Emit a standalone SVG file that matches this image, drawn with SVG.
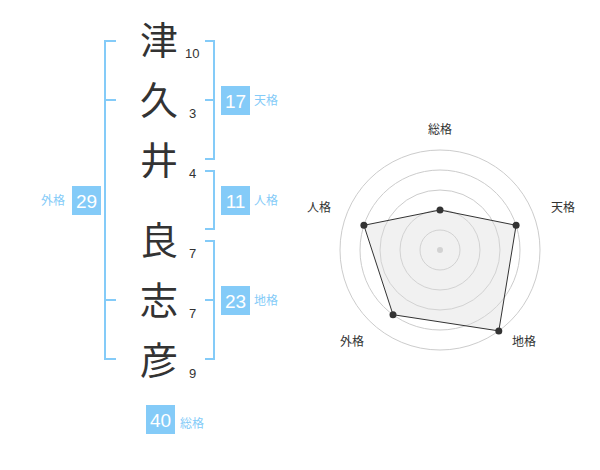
<svg xmlns="http://www.w3.org/2000/svg" width="600" height="470" viewBox="0 0 600 470">
<style>
.k{font-family:"Noto Sans CJK JP","Noto Sans CJK SC",sans-serif;font-size:38px;fill:#333;text-anchor:middle}
.n{font-family:"Liberation Sans",Arial,sans-serif;font-size:13px;fill:#333}
.br{fill:none;stroke:#84CBF8;stroke-width:2}
.bx{fill:#84CBF8}
.bt{font-family:"Liberation Sans",Arial,sans-serif;font-size:19px;fill:#fff;text-anchor:middle}
.lb{font-family:"Noto Sans CJK JP","Noto Sans CJK SC",sans-serif;font-size:12px;fill:#84CBF8}
.rl{font-family:"Noto Sans CJK JP","Noto Sans CJK SC",sans-serif;font-size:12px;fill:#333;text-anchor:middle}
.ring{fill:none;stroke:#ccc;stroke-width:1}
.pt{fill:#333}
</style>
<rect width="600" height="470" fill="#fff"/>
<g id="chars">
<text class="k" x="159" y="54">津</text>
<text class="k" x="159" y="114">久</text>
<text class="k" x="159" y="174">井</text>
<text class="k" x="159" y="254">良</text>
<text class="k" x="159" y="314">志</text>
<text class="k" x="159" y="374">彦</text>
<text class="n" x="185" y="58">10</text>
<text class="n" x="189" y="118">3</text>
<text class="n" x="189" y="178">4</text>
<text class="n" x="189" y="258">7</text>
<text class="n" x="189" y="318">7</text>
<text class="n" x="189" y="378">9</text>
</g>
<g id="connectors">
<path class="br" d="M116,41 H105 V359 H116 M105,100 H116 M105,300 H116"/>
<path class="br" d="M205,41 H214 V159 H205 M205,100 H214"/>
<path class="br" d="M205,171 H214 V229 H205"/>
<path class="br" d="M205,241 H214 V359 H205 M205,300 H214"/>
</g>
<g id="tenkaku">
<rect class="bx" x="221" y="86" width="29" height="29"/>
<text class="bt" x="235.5" y="107.5">17</text>
<text class="lb" x="254" y="105">天格</text>
</g>
<g id="jinkaku">
<rect class="bx" x="221" y="186" width="29" height="29"/>
<text class="bt" x="235.5" y="207.5">11</text>
<text class="lb" x="254" y="205">人格</text>
</g>
<g id="chikaku">
<rect class="bx" x="221" y="286" width="29" height="29"/>
<text class="bt" x="235.5" y="307.5">23</text>
<text class="lb" x="254" y="305">地格</text>
</g>
<g id="gaikaku">
<rect class="bx" x="72" y="186" width="29" height="29"/>
<text class="bt" x="86.5" y="207.5">29</text>
<text class="lb" x="41" y="205">外格</text>
</g>
<g id="soukaku">
<rect class="bx" x="146" y="405" width="29" height="29"/>
<text class="bt" x="160.5" y="426.5">40</text>
<text class="lb" x="180" y="428">総格</text>
</g>
<g id="radar">
<circle class="ring" cx="440" cy="250" r="20"/>
<circle class="ring" cx="440" cy="250" r="40"/>
<circle class="ring" cx="440" cy="250" r="60"/>
<circle class="ring" cx="440" cy="250" r="80"/>
<circle class="ring" cx="440" cy="250" r="100"/>
<circle cx="440" cy="250" r="3" fill="#ccc"/>
<polygon points="440,210 516.1,225.3 498.8,330.9 393,314.7 363.9,225.3" fill="rgba(220,220,220,0.4)" stroke="#333" stroke-width="1"/>
<circle class="pt" cx="440" cy="210" r="3.5"/>
<circle class="pt" cx="516.1" cy="225.3" r="3.5"/>
<circle class="pt" cx="498.8" cy="330.9" r="3.5"/>
<circle class="pt" cx="393" cy="314.7" r="3.5"/>
<circle class="pt" cx="363.9" cy="225.3" r="3.5"/>
<text class="rl" x="440" y="134">総格</text>
<text class="rl" x="563" y="212">天格</text>
<text class="rl" x="524" y="346">地格</text>
<text class="rl" x="352" y="346">外格</text>
<text class="rl" x="319" y="212">人格</text>
</g>
</svg>
